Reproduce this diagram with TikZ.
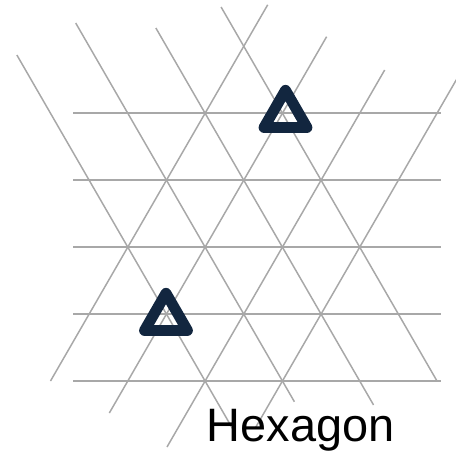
\documentclass[tikz,border=0pt]{standalone}
\usepackage{fontspec}
\setmainfont{Liberation Sans}
\definecolor{gridgray}{RGB}{168,168,168}
\definecolor{navy}{RGB}{18,38,63}
\begin{document}
\begin{tikzpicture}[x=1cm,y=1cm,
  gridline/.style={draw=gridgray, line width=0.55pt},
  marker/.style={draw=navy, line width=4pt, line join=round}]
\useasboundingbox (-0.6533,-0.8926) rectangle (5.2458,4.9288);
% horizontal lines
\foreach \y in {0,0.866,1.732,2.598,3.464}
  \draw[gridline] (0.295,\y) -- (5.048,\y);
% rising lines
\draw[gridline] (0,0) -- (2.81,4.867);
\draw[gridline] (0.761,-0.414) -- (3.572,4.454);
\draw[gridline] (1.507,-0.854) -- (4.323,4.023);
\draw[gridline] (2.654,-0.6) -- (5.464,4.267);
% falling lines
\draw[gridline] (-0.435,4.217) -- (2.375,-0.65);
\draw[gridline] (0.326,4.631) -- (3.155,-0.268);
\draw[gridline] (1.363,4.567) -- (4.179,-0.310);
\draw[gridline] (2.207,4.838) -- (5,0);
% triangles
\draw[marker] (2.762,3.279) -- (3.318,3.279) -- (3.040,3.761) -- cycle;
\draw[marker] (1.216,0.653) -- (1.772,0.653) -- (1.494,1.135) -- cycle;
% label
\node[font=\fontsize{17.26}{20}\selectfont, inner sep=0, anchor=base west] (label) at (2.016,-0.785) {Hexagon};
\end{tikzpicture}
\end{document}
